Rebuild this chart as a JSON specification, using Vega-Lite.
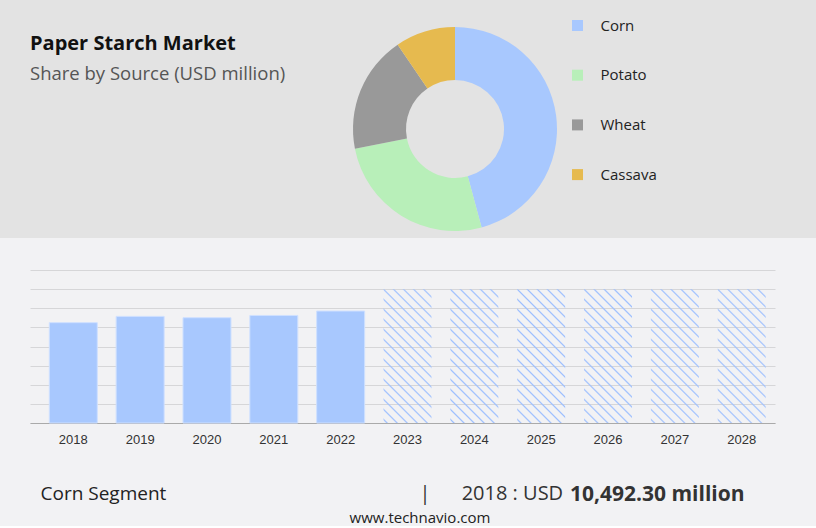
{
  "$schema": "https://vega.github.io/schema/vega-lite/v6.json",
  "background": "#f2f2f4",
  "padding": 0,
  "spacing": 32,
  "columns": 1,
  "align": "none",
  "config": {"view": {"stroke": null}},
  "title": {
    "text": "www.technavio.com",
    "orient": "bottom",
    "anchor": "middle",
    "dx": 12,
    "offset": 6,
    "font": "Open Sans",
    "fontSize": 15,
    "fontWeight": "normal",
    "color": "#222"
  },
  "concat": [
    {
      "width": 816,
      "height": 238,
      "view": {"fill": "#e3e3e3", "stroke": null},
      "title": {
        "text": "Paper Starch Market",
        "subtitle": "Share by Source (USD million)",
        "orient": "top",
        "anchor": "start",
        "frame": "group",
        "offset": 0,
        "dx": 30,
        "dy": 83,
        "font": "Open Sans",
        "fontSize": 20,
        "fontWeight": "bold",
        "color": "#111",
        "subtitleFont": "Open Sans",
        "subtitleFontSize": 18.5,
        "subtitleColor": "#555",
        "subtitlePadding": 11
      },
      "data": {
        "values": [
          {"source": "Corn", "share": 45.8},
          {"source": "Potato", "share": 26.1},
          {"source": "Wheat", "share": 18.6},
          {"source": "Cassava", "share": 9.5}
        ]
      },
      "mark": {"type": "arc", "innerRadius": 49, "outerRadius": 102, "xOffset": 47, "yOffset": 10},
      "encoding": {
        "theta": {"field": "share", "type": "quantitative", "stack": true},
        "order": {"field": "share", "sort": "descending"},
        "color": {
          "field": "source",
          "type": "nominal",
          "scale": {
            "domain": ["Corn", "Potato", "Wheat", "Cassava"],
            "range": ["#a8c8fe", "#b8efb9", "#999999", "#e6ba4f"]
          },
          "legend": {
            "orient": "none",
            "legendX": 570,
            "legendY": 18,
            "title": null,
            "symbolType": "square",
            "symbolSize": 121,
            "symbolStrokeWidth": 0,
            "labelFont": "Open Sans",
            "labelFontSize": 15,
            "labelColor": "#222",
            "labelOffset": 15.5,
            "rowPadding": 33.7,
            "padding": 0
          }
        }
      }
    },
    {
      "spacing": 0,
      "hconcat": [
        {
          "width": 30,
          "height": 153,
          "data": {"values": [{}]},
          "mark": {"type": "point", "opacity": 0}
        },
        {
          "width": 745,
          "height": 153,
          "title": {
            "text": "10,492.30 million",
            "orient": "bottom",
            "anchor": "start",
            "frame": "group",
            "offset": 0,
            "dx": 540,
            "dy": -19,
            "font": "Open Sans",
            "fontSize": 21,
            "fontWeight": "bold",
            "color": "#333"
          },
          "data": {
            "values": [
              {"year": "2018", "value": 10492.3, "kind": "actual"},
              {"year": "2019", "value": 11150, "kind": "actual"},
              {"year": "2020", "value": 11010, "kind": "actual"},
              {"year": "2021", "value": 11250, "kind": "actual"},
              {"year": "2022", "value": 11710, "kind": "actual"},
              {"year": "2023", "value": 14000, "kind": "forecast"},
              {"year": "2024", "value": 14000, "kind": "forecast"},
              {"year": "2025", "value": 14000, "kind": "forecast"},
              {"year": "2026", "value": 14000, "kind": "forecast"},
              {"year": "2027", "value": 14000, "kind": "forecast"},
              {"year": "2028", "value": 14000, "kind": "forecast"}
            ]
          },
          "encoding": {
            "x": {
              "field": "year",
              "type": "ordinal",
              "scale": {"paddingInner": 0.282, "paddingOuter": 0.214, "align": 0.675},
              "axis": {
                "title": "Corn Segment",
                "titleX": 10,
                "titleY": 70,
                "titleAlign": "left",
                "titleBaseline": "middle",
                "titleFont": "Open Sans",
                "titleFontSize": 19,
                "titleFontWeight": "normal",
                "titleColor": "#222",
                "labelAngle": 0,
                "labelFont": "Liberation Sans",
                "labelFontSize": 13,
                "labelColor": "#333",
                "labelPadding": 10,
                "ticks": false,
                "domainColor": "#aaaaaa",
                "domainWidth": 1
              }
            },
            "y": {
              "field": "value",
              "type": "quantitative",
              "scale": {"domain": [0, 16000], "nice": false},
              "axis": {
                "values": [0, 2000, 4000, 6000, 8000, 10000, 12000, 14000, 16000],
                "grid": true,
                "gridColor": "#d6d6d8",
                "labels": false,
                "ticks": false,
                "domain": false,
                "title": "|\u00a0\u00a0\u00a0\u00a0\u00a0\u00a02018 : USD",
                "titleAngle": 0,
                "titleX": 389,
                "titleY": 223,
                "titleAlign": "left",
                "titleBaseline": "middle",
                "titleFont": "Open Sans",
                "titleFontSize": 20,
                "titleFontWeight": "normal",
                "titleColor": "#333"
              }
            }
          },
          "layer": [
            {
              "transform": [{"filter": "datum.kind == 'actual'"}],
              "mark": {"type": "bar", "color": "#a8c8fe", "stroke": "#cfe0ff", "strokeWidth": 1}
            },
            {
              "transform": [{"filter": "datum.kind == 'forecast'"}],
              "mark": {
                "type": "bar",
                "fill": {
                  "gradient": "linear",
                  "x1": 0, "y1": 1, "x2": 0.432, "y2": -0.2076,
                  "stops": [
                    {"offset": 0, "color": "rgba(157,191,255,0)"},
                    {"offset": 0.011, "color": "rgba(157,191,255,0)"}, {"offset": 0.020, "color": "#9dbfff"}, {"offset": 0.029, "color": "rgba(157,191,255,0)"},
                    {"offset": 0.0659, "color": "rgba(157,191,255,0)"}, {"offset": 0.0749, "color": "#9dbfff"}, {"offset": 0.0839, "color": "rgba(157,191,255,0)"},
                    {"offset": 0.1208, "color": "rgba(157,191,255,0)"}, {"offset": 0.1298, "color": "#9dbfff"}, {"offset": 0.1388, "color": "rgba(157,191,255,0)"},
                    {"offset": 0.1757, "color": "rgba(157,191,255,0)"}, {"offset": 0.1847, "color": "#9dbfff"}, {"offset": 0.1937, "color": "rgba(157,191,255,0)"},
                    {"offset": 0.2306, "color": "rgba(157,191,255,0)"}, {"offset": 0.2396, "color": "#9dbfff"}, {"offset": 0.2486, "color": "rgba(157,191,255,0)"},
                    {"offset": 0.2855, "color": "rgba(157,191,255,0)"}, {"offset": 0.2945, "color": "#9dbfff"}, {"offset": 0.3035, "color": "rgba(157,191,255,0)"},
                    {"offset": 0.3404, "color": "rgba(157,191,255,0)"}, {"offset": 0.3494, "color": "#9dbfff"}, {"offset": 0.3584, "color": "rgba(157,191,255,0)"},
                    {"offset": 0.3953, "color": "rgba(157,191,255,0)"}, {"offset": 0.4043, "color": "#9dbfff"}, {"offset": 0.4133, "color": "rgba(157,191,255,0)"},
                    {"offset": 0.4502, "color": "rgba(157,191,255,0)"}, {"offset": 0.4592, "color": "#9dbfff"}, {"offset": 0.4682, "color": "rgba(157,191,255,0)"},
                    {"offset": 0.5051, "color": "rgba(157,191,255,0)"}, {"offset": 0.5141, "color": "#9dbfff"}, {"offset": 0.5231, "color": "rgba(157,191,255,0)"},
                    {"offset": 0.5600, "color": "rgba(157,191,255,0)"}, {"offset": 0.5690, "color": "#9dbfff"}, {"offset": 0.5780, "color": "rgba(157,191,255,0)"},
                    {"offset": 0.6149, "color": "rgba(157,191,255,0)"}, {"offset": 0.6239, "color": "#9dbfff"}, {"offset": 0.6329, "color": "rgba(157,191,255,0)"},
                    {"offset": 0.6698, "color": "rgba(157,191,255,0)"}, {"offset": 0.6788, "color": "#9dbfff"}, {"offset": 0.6878, "color": "rgba(157,191,255,0)"},
                    {"offset": 0.7247, "color": "rgba(157,191,255,0)"}, {"offset": 0.7337, "color": "#9dbfff"}, {"offset": 0.7427, "color": "rgba(157,191,255,0)"},
                    {"offset": 0.7796, "color": "rgba(157,191,255,0)"}, {"offset": 0.7886, "color": "#9dbfff"}, {"offset": 0.7976, "color": "rgba(157,191,255,0)"},
                    {"offset": 0.8345, "color": "rgba(157,191,255,0)"}, {"offset": 0.8435, "color": "#9dbfff"}, {"offset": 0.8525, "color": "rgba(157,191,255,0)"},
                    {"offset": 0.8894, "color": "rgba(157,191,255,0)"}, {"offset": 0.8984, "color": "#9dbfff"}, {"offset": 0.9074, "color": "rgba(157,191,255,0)"},
                    {"offset": 0.9443, "color": "rgba(157,191,255,0)"}, {"offset": 0.9533, "color": "#9dbfff"}, {"offset": 0.9623, "color": "rgba(157,191,255,0)"},
                    {"offset": 1, "color": "rgba(157,191,255,0)"}
                  ]
                }
              }
            }
          ]
        }
      ]
    }
  ]
}
